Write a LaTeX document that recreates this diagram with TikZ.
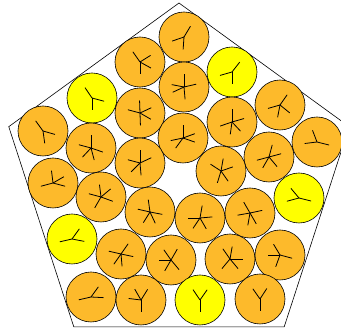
\documentclass[tikz,border=0pt]{standalone}
\usepackage{tikz}
\usetikzlibrary{positioning,calc}
\definecolor{ballorange}{RGB}{253,186,43}
\definecolor{ballyellow}{RGB}{255,255,0}
\tikzset{
  ball/.style={
    circle, draw=black, fill=ballorange, line width=0.6pt,
    minimum size=50pt, inner sep=0pt
  },
  sunball/.style={ball, fill=ballyellow},
  spoke/.style={line width=0.8pt, black},
  rim/.style={line width=0.6pt, black}
}
\newcommand{\ballspokes}[2]{%
  \foreach \a in {#2} \draw[spoke] (#1.center) -- ++(\a:12.5);}

\begin{document}
\begin{tikzpicture}[x=1pt, y=-1pt]
  \useasboundingbox (0,0) rectangle (341,328);
  \clip (0,0) rectangle (341,328);

  % Pentagon
  \coordinate (mid) at (179,182);
  \draw[rim] ($(mid)+(-90:179)$) -- ($(mid)+(-18:179)$) -- ($(mid)+(54:179)$)
    -- ($(mid)+(126:179)$) -- ($(mid)+(198:179)$) -- cycle;

  % Balls
  \node[ball]    (b1)  at (184,37)  {};
  \node[ball]    (b2)  at (140,62)  {};
  \node[sunball] (b3)  at (232,72)  {};
  \node[sunball] (b4)  at (92,98)   {};
  \node[ball]    (b5)  at (184,87)  {};
  \node[ball]    (b6)  at (140,113) {};
  \node[ball]    (b7)  at (280,105) {};
  \node[ball]    (b8)  at (232,122) {};
  \node[ball]    (b9)  at (43,131)  {};
  \node[ball]    (b10) at (91,148)  {};
  \node[ball]    (b11) at (317,142) {};
  \node[ball]    (b12) at (183,138) {};
  \node[ball]    (b13) at (140,163) {};
  \node[ball]    (b14) at (269,157) {};
  \node[ball]    (b15) at (221,171) {};
  \node[ball]    (b16) at (53,183)  {};
  \node[ball]    (b17) at (101,197) {};
  \node[ball]    (b18) at (150,212) {};
  \node[ball]    (b19) at (200,218) {};
  \node[ball]    (b20) at (250,213) {};
  \node[sunball] (b21) at (299,198) {};
  \node[sunball] (b22) at (72,239)  {};
  \node[ball]    (b23) at (121,254) {};
  \node[ball]    (b24) at (171,260) {};
  \node[ball]    (b25) at (230,259) {};
  \node[ball]    (b26) at (280,255) {};
  \node[ball]    (b27) at (91,297)  {};
  \node[ball]    (b28) at (141,300) {};
  \node[sunball] (b29) at (200,300) {};
  \node[ball]    (b30) at (260,299) {};

  % Spokes
  \ballspokes{b1}{-59,161,94}
  \ballspokes{b2}{-125,-32,29,90}
  \ballspokes{b3}{-52,164,90}
  \ballspokes{b4}{-124,15,90}
  \ballspokes{b5}{-90,85,155,-13,-169}
  \ballspokes{b6}{-92,88,-165,30,-25}
  \ballspokes{b7}{-55,164,39,101}
  \ballspokes{b8}{-90,161,-16,98,47}
  \ballspokes{b9}{-126,16,82}
  \ballspokes{b10}{-90,-165,19,133,75}
  \ballspokes{b11}{173,14,-111}
  \ballspokes{b12}{-90,168,19,126,-20}
  \ballspokes{b13}{-90,85,-165,-25,135}
  \ballspokes{b14}{-75,165,-15,50,120}
  \ballspokes{b15}{-80,-147,-19,55,107}
  \ballspokes{b16}{-97,165,15,-30}
  \ballspokes{b17}{-97,-165,20,-40,120}
  \ballspokes{b18}{-98,-167,11,122,65}
  \ballspokes{b19}{-80,180,-5,124,60}
  \ballspokes{b20}{-120,60,170,-12,100}
  \ballspokes{b21}{-130,165,14}
  \ballspokes{b22}{-54,167,11}
  \ballspokes{b23}{-167,12,-55,125,85}
  \ballspokes{b24}{180,-125,-60,50,120}
  \ballspokes{b25}{-125,50,0,130,-80}
  \ballspokes{b26}{-121,180,15,110}
  \ballspokes{b27}{-54,167,3}
  \ballspokes{b28}{-173,-120,-58,90}
  \ballspokes{b29}{-124,-55,90}
  \ballspokes{b30}{-125,-57,90}
\end{tikzpicture}
\end{document}
